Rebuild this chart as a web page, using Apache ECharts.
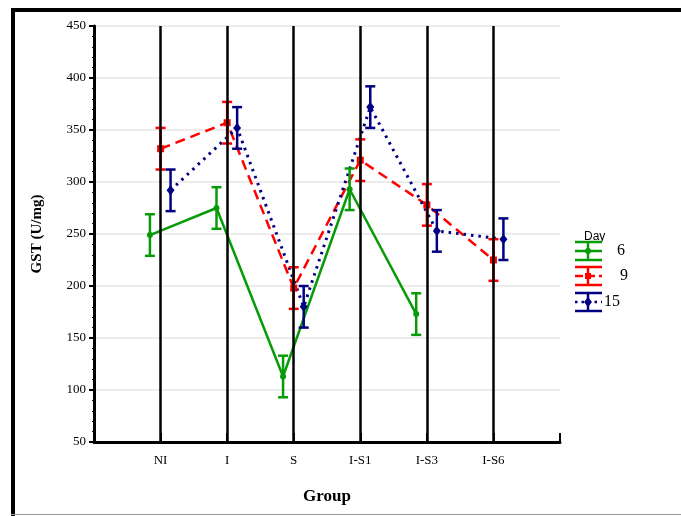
<!DOCTYPE html>
<html><head><meta charset="utf-8">
<script src="https://cdn.jsdelivr.net/npm/echarts@6/dist/echarts.min.js"></script>
<style>html,body{margin:0;padding:0;background:#fff}#c{width:681px;height:516px}</style>
</head><body><div id="c"></div>
<script>
const categories = ['NI', 'I', 'S', 'I-S1', 'I-S3', 'I-S6'];
const day6 = [249, 275, 113, 293, 173];
const day6Err = [20, 20, 20, 20, 20];
const day9 = [332, 357, 198, 321, 278, 225];
const day9Err = [20, 20, 20, 20, 20, 20];
const day15 = [292, 352, 180, 372, 253, 245];
const day15Err = [20, 20, 20, 20, 20, 20];
const yTicks = [50, 100, 150, 200, 250, 300, 350, 400, 450];

const OFF = {g: -0.16, r: 0, b: 0.15};
function pts(vals, off){ return vals.map((v,i)=>[i+1+off, v]); }
function errPts(vals, errs, off){ return vals.map((v,i)=>[i+1+off, v-errs[i], v+errs[i]]); }

function errSeries(vals, errs, off, color){
  return {
    type:'custom', z:4,
    data: errPts(vals, errs, off),
    renderItem: function(params, api){
      const x = api.value(0);
      const lo = api.coord([x, api.value(1)]);
      const hi = api.coord([x, api.value(2)]);
      const w = 5;
      const st = {stroke: color, lineWidth: 2.5};
      return {type:'group', children:[
        {type:'line', shape:{x1:lo[0], y1:lo[1], x2:hi[0], y2:hi[1]}, style:st},
        {type:'line', shape:{x1:lo[0]-w, y1:lo[1], x2:lo[0]+w, y2:lo[1]}, style:st},
        {type:'line', shape:{x1:hi[0]-w, y1:hi[1], x2:hi[0]+w, y2:hi[1]}, style:st}
      ]};
    }
  };
}

const GREEN = '#079b07', RED = '#ff0000', BLUE = '#000080';
const chart = echarts.init(document.getElementById('c'), null, {renderer:'canvas'});

function legendItem(y, color, dash, sym, label, lx){
  const x1 = 575, x2 = 602, cx = 588;
  const st = {stroke: color, lineWidth: 2.5};
  const items = [
    {type:'line', shape:{x1:x1, y1:y-9, x2:x2, y2:y-9}, style:st},
    {type:'line', shape:{x1:x1, y1:y+9, x2:x2, y2:y+9}, style:st},
    {type:'line', shape:{x1:cx, y1:y-9, x2:cx, y2:y+9}, style:st},
    {type:'line', shape:{x1:x1, y1:y, x2:x2, y2:y}, style:{stroke:color, lineWidth:2.5, lineDash:dash}},
    {type:'text', x:lx, y:y, style:{text:label, font:'16px "Liberation Serif"', fill:'#000', textVerticalAlign:'middle'}}
  ];
  if (sym) items.push(sym);
  return items;
}

chart.setOption({
  animation:false,
  backgroundColor:'#fff',
  grid:{left:94, top:26, width:466, height:416},
  xAxis:{
    type:'value', min:0, max:7, interval:1,
    name:'Group', nameLocation:'middle', nameGap:46,
    nameTextStyle:{fontFamily:'Liberation Serif', fontWeight:'bold', fontSize:17, color:'#000'},
    axisLine:{show:true, lineStyle:{color:'#000', width:3}},
    axisTick:{show:true, inside:true, length:9, lineStyle:{color:'#000', width:2}},
    axisLabel:{margin:12, fontFamily:'Liberation Serif', fontSize:13, color:'#000',
      formatter:function(v){ return (v>=1 && v<=categories.length) ? categories[v-1] : ''; }},
    splitLine:{show:false}
  },
  yAxis:{
    type:'value', min:50, max:450, interval:50,
    name:'GST (U/mg)', nameLocation:'middle', nameGap:49,
    nameTextStyle:{fontFamily:'Liberation Serif', fontWeight:'bold', fontSize:15, color:'#000'},
    axisLine:{show:true, lineStyle:{color:'#000', width:3}},
    axisTick:{show:true, length:5, lineStyle:{color:'#000', width:2}},
    minorTick:{show:true, splitNumber:5, length:2, lineStyle:{color:'#000', width:1}},
    axisLabel:{margin:8, fontFamily:'Liberation Serif', fontSize:13, color:'#000',
      formatter:function(v){ return yTicks.indexOf(v)>=0 ? String(v) : ''; }},
    splitLine:{show:true, lineStyle:{color:'#e6e6e6', width:1.5}}
  },
  series:[
    {type:'line', z:1, data:[], silent:true,
      markLine:{silent:true, symbol:['none','none'], label:{show:false},
        lineStyle:{color:'#000', width:2.5, type:'solid'},
        data: categories.map((c,i)=>({xAxis:i+1}))}},
    {type:'line', name:'6', z:3, data:pts(day6, OFF.g), symbol:'circle', symbolSize:6,
      lineStyle:{color:GREEN, width:2.5}, itemStyle:{color:GREEN}},
    {type:'line', name:'9', z:3, data:pts(day9, OFF.r), symbol:'rect', symbolSize:7,
      lineStyle:{color:RED, width:2.5, type:[10,6]}, itemStyle:{color:RED}},
    {type:'line', name:'15', z:3, data:pts(day15, OFF.b), symbol:'diamond', symbolSize:[8,10],
      lineStyle:{color:BLUE, width:3, type:[2.5,5]}, itemStyle:{color:BLUE}},
    errSeries(day6, day6Err, OFF.g, GREEN),
    errSeries(day9, day9Err, OFF.r, RED),
    errSeries(day15, day15Err, OFF.b, BLUE)
  ],
  graphic:[
    {type:'rect', shape:{x:11, y:8, width:4, height:510}, style:{fill:'#000'}},
    {type:'rect', shape:{x:11, y:8, width:670, height:4}, style:{fill:'#000'}},
    {type:'rect', shape:{x:11, y:514, width:670, height:1}, style:{fill:'#999'}},
    {type:'text', x:584, y:231, style:{text:'Day', font:'12px "Liberation Sans"', fill:'#000'}},
    ...legendItem(251, GREEN, null, {type:'circle', shape:{cx:588, cy:251, r:3}, style:{fill:GREEN}}, '6', 617),
    ...legendItem(276, RED, [8,4], {type:'rect', shape:{x:585, y:273, width:6, height:6}, style:{fill:RED}}, '9', 620),
    ...legendItem(302, BLUE, [2.5,4], {type:'polygon', shape:{points:[[588,297],[592,302],[588,307],[584,302]]}, style:{fill:BLUE}}, '15', 604)
  ]
});
</script></body></html>
